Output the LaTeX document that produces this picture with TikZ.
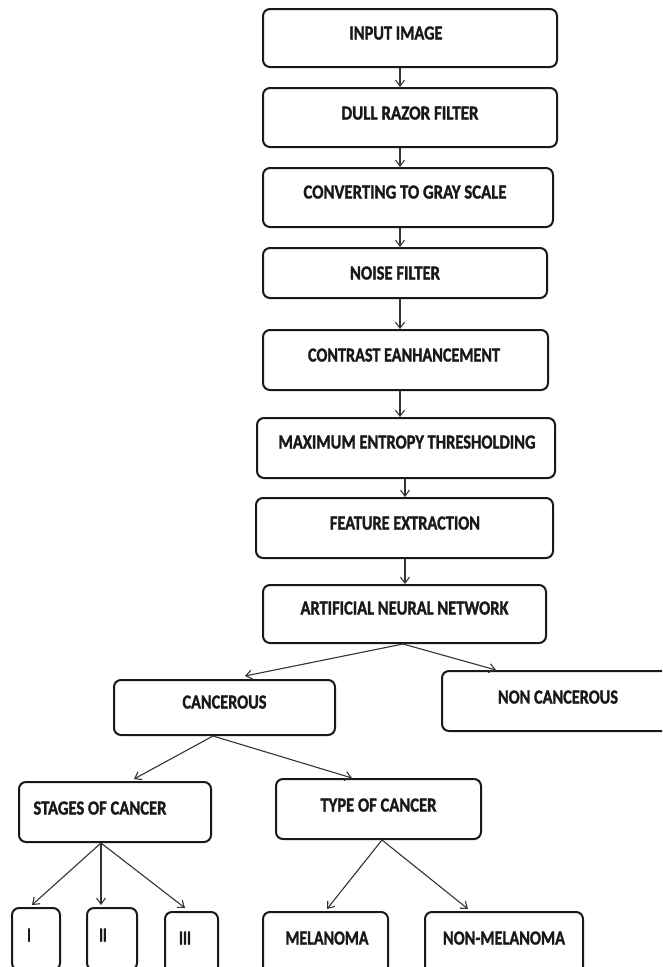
\documentclass[tikz,border=0pt]{standalone}
\usepackage{fontspec}
\setmainfont{Carlito}[BoldFeatures={FakeBold=1.6}]
\usepackage{graphicx}
\usetikzlibrary{arrows.meta}
\newcommand\BoxText[4]{\smash{\raisebox{#2pt}{\makebox[0pt]{\hspace*{#1pt}\hspace*{#1pt}\resizebox{#3pt}{13pt}{\bfseries #4}}}}}
\begin{document}
\begin{tikzpicture}[x=1pt,y=-1pt,
  box/.style={draw=black!90, line width=2pt, rounded corners=7pt, inner sep=0pt, fill=white, text=black!90},
  arr/.style={-{Straight Barb[length=6pt,width=9pt]}, line width=1.1pt, draw=black!80}]
\useasboundingbox (0,0) rectangle (662,967);
\clip (0,0) rectangle (662,967);
\fill[white] (0,0) rectangle (662,967);

\node[box, minimum width=294pt, minimum height=58pt] (n1) at (410,38) {\BoxText{-14}{-1.5}{93}{INPUT IMAGE}};
\node[box, minimum width=294pt, minimum height=59pt] (n2) at (410,117.5) {\BoxText{0}{-2}{137}{DULL RAZOR FILTER}};
\node[box, minimum width=290pt, minimum height=59pt] (n3) at (408,197.5) {\BoxText{-3}{-1}{203}{CONVERTING TO GRAY SCALE}};
\node[box, minimum width=284pt, minimum height=50pt] (n4) at (405,273) {\BoxText{-10}{-6.5}{90}{NOISE FILTER}};
\node[box, minimum width=285pt, minimum height=60pt] (n5) at (405.5,360) {\BoxText{-1.5}{-1.5}{192}{CONTRAST EANHANCEMENT}};
\node[box, minimum width=298pt, minimum height=60pt] (n6) at (406,448) {\BoxText{1}{-0.5}{257}{MAXIMUM ENTROPY THRESHOLDING}};
\node[box, minimum width=297pt, minimum height=60pt] (n7) at (404.5,528) {\BoxText{0.5}{-1.5}{150}{FEATURE EXTRACTION}};
\node[box, minimum width=283pt, minimum height=58pt] (n8) at (404.5,614) {\BoxText{0}{-0.5}{208}{ARTIFICIAL NEURAL NETWORK}};
\node[box, minimum width=221pt, minimum height=55pt] (n9) at (224.5,707.5) {\BoxText{0}{-1}{84}{CANCEROUS}};
\node[box, minimum width=258pt, minimum height=60pt] (n10) at (571,701) {\BoxText{-13}{-2.5}{120}{NON CANCEROUS}};
\node[box, minimum width=192pt, minimum height=60pt] (n11) at (115,812) {\BoxText{-15}{-2.5}{133}{STAGES OF CANCER}};
\node[box, minimum width=205pt, minimum height=60pt] (n12) at (378.5,809) {\BoxText{0}{-2.5}{116}{TYPE OF CANCER}};
\node[box, minimum width=48pt, minimum height=62pt] (n13) at (36,939) {\BoxText{-7}{-2.5}{3.5}{I}};
\node[box, minimum width=50pt, minimum height=62pt] (n14) at (112,939) {\BoxText{-9}{-2.5}{7.5}{II}};
\node[box, minimum width=53pt, minimum height=62pt] (n15) at (191.5,943) {\BoxText{-6.5}{-1.5}{12}{III}};
\node[box, minimum width=125pt, minimum height=62pt] (n16) at (325.5,943) {\BoxText{1.5}{-1.5}{83}{MELANOMA}};
\node[box, minimum width=158pt, minimum height=62pt] (n17) at (504,943) {\BoxText{0}{-1.5}{122}{NON-MELANOMA}};

\draw[arr] (n1.south -| 400,0) -- (n2.north -| 400,0);
\draw[arr] (n2.south -| 400,0) -- (n3.north -| 400,0);
\draw[arr] (n3.south -| 400,0) -- (n4.north -| 400,0);
\draw[arr] (n4.south -| 400,0) -- (n5.north -| 400,0);
\draw[arr] (n5.south -| 400,0) -- (n6.north -| 400,0);
\draw[arr] (n6.south -| 405,0) -- (n7.north -| 405,0);
\draw[arr] (n7.south -| 405,0) -- (n8.north -| 405,0);

\draw[arr] (n8.south -| 403,0) -- ([yshift=3pt]n9.north -| 245,0);
\draw[arr] (n8.south -| 403,0) -- (n10.north -| 496,0);
\draw[arr] (n9.south -| 213,0) -- ([yshift=2pt]n11.north -| 134,0);
\draw[arr] (n9.south -| 213,0) -- (n12.north -| 352,0);
\draw[arr] (n11.south -| 101,0) -- ([yshift=2pt]n13.north -| 32,0);
\draw[arr] (n11.south -| 101,0) -- ([yshift=2pt]n14.north -| 101,0);
\draw[arr] (n11.south -| 101,0) -- ([yshift=3pt]n15.north -| 185,0);
\draw[arr] (n12.south -| 382,0) -- ([yshift=2pt]n16.north -| 327,0);
\draw[arr] (n12.south -| 382,0) -- ([yshift=2pt]n17.north -| 468,0);
\end{tikzpicture}
\end{document}
